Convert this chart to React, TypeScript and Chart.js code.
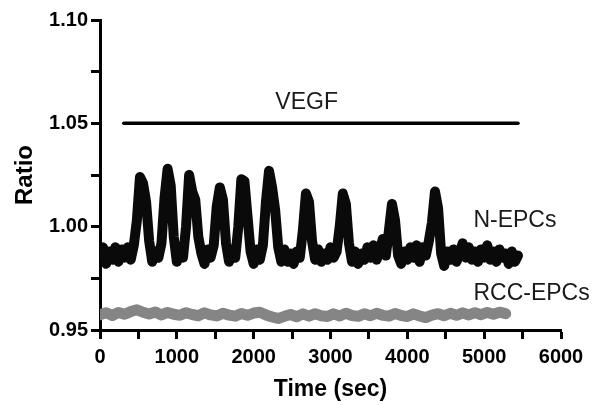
import { useEffect, useRef } from 'react';
import { Chart, registerables } from 'chart.js';
Chart.register(...registerables);

// N-EPCs trace (time in sec, ratio)
const nTimes = [
  0, 40, 80, 120, 160, 200, 240, 280, 320, 360, 400, 440, 480, 520, 560, 600, 640, 680, 720, 760,
  800, 840, 880, 920, 960, 1000, 1040, 1080, 1120, 1160, 1200, 1240, 1280, 1320, 1360, 1400, 1440, 1480, 1520, 1560,
  1600, 1640, 1680, 1720, 1760, 1800, 1840, 1880, 1920, 1960, 2000, 2040, 2080, 2120, 2160, 2200, 2240, 2280, 2320, 2360,
  2400, 2440, 2480, 2520, 2560, 2600, 2640, 2680, 2720, 2760, 2800, 2840, 2880, 2920, 2960, 3000, 3040, 3080, 3120, 3160,
  3200, 3240, 3280, 3320, 3360, 3400, 3440, 3480, 3520, 3560, 3600, 3640, 3680, 3720, 3760, 3800, 3840, 3880, 3920, 3960,
  4000, 4040, 4080, 4120, 4160, 4200, 4240, 4280, 4320, 4360, 4400, 4440, 4480, 4520, 4560, 4600, 4640, 4680, 4720, 4760,
  4800, 4840, 4880, 4920, 4960, 5000, 5040, 5080, 5120, 5160, 5200, 5240, 5280, 5320, 5360, 5400, 5440,
];
const nValues = [
  0.986, 0.990, 0.982, 0.988, 0.984, 0.990, 0.983, 0.989, 0.985, 0.990, 0.984, 0.991, 1.003, 1.024, 1.021, 1.012, 0.993, 0.983, 0.988, 0.985,
  0.992, 1.014, 1.028, 1.020, 0.995, 0.983, 0.989, 0.985, 1.000, 1.025, 1.017, 1.013, 0.995, 0.987, 0.982, 0.989, 0.985, 0.991, 1.010, 1.019,
  1.013, 0.992, 0.983, 0.988, 0.985, 1.000, 1.023, 1.022, 1.005, 0.988, 0.982, 0.989, 0.984, 0.991, 1.012, 1.027, 1.019, 1.008, 0.990, 0.983,
  0.989, 0.983, 0.987, 0.982, 0.988, 0.985, 0.998, 1.016, 1.012, 0.993, 0.984, 0.989, 0.983, 0.987, 0.984, 0.990, 0.985, 0.988, 1.000, 1.016,
  1.011, 0.992, 0.983, 0.988, 0.982, 0.987, 0.984, 0.990, 0.985, 0.991, 0.984, 0.988, 0.994, 0.986, 0.998, 1.011, 1.003, 0.986, 0.982, 0.988,
  0.984, 0.990, 0.985, 0.991, 0.983, 0.990, 0.986, 0.993, 1.002, 1.017, 1.009, 0.987, 0.981, 0.988, 0.984, 0.989, 0.983, 0.987, 0.992, 0.985,
  0.990, 0.984, 0.988, 0.983, 0.989, 0.985, 0.991, 0.984, 0.988, 0.983, 0.989, 0.985, 0.987, 0.982, 0.988, 0.983, 0.986,
];

// RCC-EPCs trace
const rTimes = [
  0, 80, 160, 240, 320, 400, 480, 560, 640, 720, 800, 880, 960, 1040, 1120, 1200, 1280, 1360, 1440, 1520,
  1600, 1680, 1760, 1840, 1920, 2000, 2080, 2160, 2240, 2320, 2400, 2480, 2560, 2640, 2720, 2800, 2880, 2960, 3040, 3120,
  3200, 3280, 3360, 3440, 3520, 3600, 3680, 3760, 3840, 3920, 4000, 4080, 4160, 4240, 4320, 4400, 4480, 4560, 4640, 4720,
  4800, 4880, 4960, 5040, 5120, 5200, 5280,
];
const rValues = [
  0.9574, 0.9584, 0.9570, 0.9585, 0.9576, 0.9589, 0.9598, 0.9586, 0.9577, 0.9587, 0.9573, 0.9585, 0.9576, 0.9571, 0.9584, 0.9575, 0.9569, 0.9583, 0.9573, 0.9568,
  0.9581, 0.9572, 0.9567, 0.9580, 0.9571, 0.9582, 0.9586, 0.9573, 0.9563, 0.9556, 0.9566, 0.9575, 0.9564, 0.9578, 0.9567, 0.9579, 0.9569, 0.9565, 0.9578, 0.9568,
  0.9581, 0.9570, 0.9566, 0.9579, 0.9569, 0.9581, 0.9571, 0.9567, 0.9580, 0.9570, 0.9565, 0.9578, 0.9568, 0.9560, 0.9572, 0.9579, 0.9569, 0.9581, 0.9571, 0.9583,
  0.9573, 0.9584, 0.9574, 0.9585, 0.9576, 0.9586, 0.9579,
];

// VEGF bar
const vegfTimes = [310, 5440];
const vegfValues = [1.05, 1.05];

const xMin = 0;
const xMax = 6000;
const xStep = 500;
const yMin = 0.95;
const yMax = 1.1;
const yStep = 0.025;

const xTitle = 'Time (sec)';
const yTitle = 'Ratio';

// annotation texts: [text, x, y, align]
const annotations: [string, number, number, CanvasTextAlign][] = [
  ['VEGF', 2690, 1.0598, 'center'],
  ['N-EPCs', 4860, 1.003, 'left'],
  ['RCC-EPCs', 4860, 0.9676, 'left'],
];

const FONT = '"Liberation Sans", Arial, Helvetica, sans-serif';

const isMajorY = (v: number) => Math.abs(v * 20 - Math.round(v * 20)) < 1e-6;
const isMajorX = (v: number) => Math.abs(v % 1000) < 1e-6;

const textPlugin = {
  id: 'annotText',
  afterDatasetsDraw(chart: any) {
    const ctx = chart.ctx;
    const xs = chart.scales.x;
    const ys = chart.scales.y;
    ctx.save();
    ctx.fillStyle = '#1a1a1a';
    ctx.font = `23px ${FONT}`;
    ctx.textBaseline = 'middle';
    annotations.forEach(([text, x, y, align]) => {
      ctx.textAlign = align;
      ctx.fillText(text, xs.getPixelForValue(x), ys.getPixelForValue(y));
    });
    ctx.restore();
  },
};

export default function App() {
  const ref = useRef<HTMLCanvasElement | null>(null);
  useEffect(() => {
    if (!ref.current) return;
    const chart = new Chart(ref.current, {
      type: 'line',
      data: {
        datasets: [
          {
            label: 'RCC-EPCs',
            data: rTimes.map((t, i) => ({ x: t, y: rValues[i] })),
            borderColor: '#858585',
            borderWidth: 11,
            pointRadius: 0,
            tension: 0,
            borderJoinStyle: 'round',
            borderCapStyle: 'round',
          },
          {
            label: 'N-EPCs',
            data: nTimes.map((t, i) => ({ x: t, y: nValues[i] })),
            borderColor: '#0a0a0a',
            borderWidth: 10,
            pointRadius: 0,
            tension: 0,
            borderJoinStyle: 'round',
            borderCapStyle: 'round',
          },
          {
            label: 'VEGF',
            data: vegfTimes.map((t, i) => ({ x: t, y: vegfValues[i] })),
            borderColor: '#000',
            borderWidth: 3.5,
            pointRadius: 0,
            borderCapStyle: 'round',
          },
        ],
      },
      options: {
        animation: false,
        responsive: false,
        events: [],
        layout: { padding: { left: 0, top: 20, right: 32, bottom: 0 } },
        plugins: { legend: { display: false }, tooltip: { enabled: false } },
        scales: {
          x: {
            type: 'linear',
            min: xMin,
            max: xMax,
            grid: {
              display: true,
              drawOnChartArea: false,
              drawTicks: true,
              tickLength: 9,
              tickWidth: 3,
              tickColor: '#000',
            },
            border: { display: true, width: 3, color: '#000' },
            ticks: {
              stepSize: xStep,
              autoSkip: false,
              maxRotation: 0,
              padding: 6,
              color: '#000',
              font: { family: FONT, size: 20, weight: 'bold' },
              callback: (v: any) => (isMajorX(Number(v)) ? String(v) : ''),
            },
            title: {
              display: true,
              text: xTitle,
              color: '#000',
              font: { family: FONT, size: 23, weight: 'bold' },
              padding: { top: 0, bottom: 2 },
            },
            afterFit: (s: any) => {
              s.height = 75;
            },
          },
          y: {
            type: 'linear',
            min: yMin,
            max: yMax,
            grid: {
              display: true,
              drawOnChartArea: false,
              drawTicks: true,
              tickLength: 9,
              tickWidth: 3,
              tickColor: '#000',
            },
            border: { display: true, width: 3, color: '#000' },
            ticks: {
              stepSize: yStep,
              autoSkip: false,
              padding: 3,
              color: '#000',
              font: { family: FONT, size: 20, weight: 'bold' },
              callback: (v: any) => (isMajorY(Number(v)) ? Number(v).toFixed(2) : ''),
            },
            title: {
              display: true,
              text: yTitle,
              color: '#000',
              font: { family: FONT, size: 24, weight: 'bold' },
              padding: { top: 11, bottom: 0 },
            },
            afterFit: (s: any) => {
              s.width = 100;
            },
          },
        },
      },
      plugins: [textPlugin],
    });
    return () => chart.destroy();
  }, []);
  return (
    <div style={{ position: 'fixed', left: 0, top: 0, width: 593, height: 405, background: '#fff' }}>
      <canvas ref={ref} width={593} height={405} />
    </div>
  );
}
